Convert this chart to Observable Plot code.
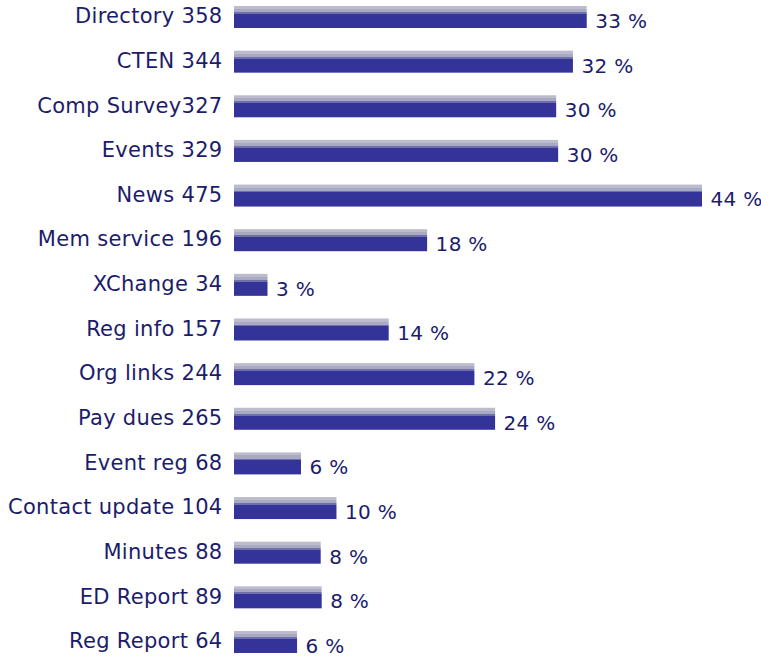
<!DOCTYPE html>
<html>
<head>
<meta charset="utf-8">
<script src="https://cdn.jsdelivr.net/npm/d3@7"></script>
<script src="https://cdn.jsdelivr.net/npm/@observablehq/plot@0.6"></script>
<style>
  html, body { margin: 0; padding: 0; background: #fff; }
  #chart svg { display: block; }
  #chart svg text { letter-spacing: 0.3px; }
</style>
</head>
<body>
<div id="chart"></div>
<script>
const labels = ["Directory 358", "CTEN 344", "Comp Survey327", "Events 329", "News 475", "Mem service 196", "XChange 34", "Reg info 157", "Org links 244", "Pay dues 265", "Event reg 68", "Contact update 104", "Minutes 88", "ED Report 89", "Reg Report 64"];
const counts = [358, 344, 327, 329, 475, 196, 34, 157, 244, 265, 68, 104, 88, 89, 64];
const percents = [33, 32, 30, 30, 44, 18, 3, 14, 22, 24, 6, 10, 8, 8, 6];

const data = labels.map((label, i) => ({label, count: counts[i], pct: percents[i]}));

const textColor = "#1c1c6b";
const font = "DejaVu Sans, Verdana, sans-serif";

const chart = Plot.plot({
  width: 761,
  height: 658,
  marginLeft: 234,
  marginRight: 59,
  marginTop: 0,
  marginBottom: 0,
  style: {fontFamily: font, background: "#fff", overflow: "visible"},
  x: {domain: [0, 475], axis: null},
  y: {type: "band", domain: labels, range: [6, 652.97], paddingInner: 0.507, paddingOuter: 0, round: false, axis: null},
  marks: [
    Plot.barX(data, {x: "count", y: "label", fill: "url(#barGrad)"}),
    Plot.axisY({tickSize: 0, tickPadding: 12, fontSize: 21, color: textColor, label: null, dy: -1}),
    Plot.text(data, {x: "count", y: "label", text: d => `${d.pct} %`, textAnchor: "start", dx: 8, dy: 4, fontSize: 20, fill: textColor})
  ]
});

const defs = d3.select(chart).insert("defs", ":first-child");
const g = defs.append("linearGradient").attr("id", "barGrad").attr("x1", 0).attr("y1", 0).attr("x2", 0).attr("y2", 1);
[
  [0, "#bcbccf"], [0.14, "#bcbccf"], [0.14, "#a9a9c2"], [0.28, "#a9a9c2"],
  [0.28, "#6f6fad"], [0.36, "#6f6fad"], [0.36, "#333399"], [1, "#333399"]
].forEach(([o, c]) => g.append("stop").attr("offset", o).attr("stop-color", c));

document.getElementById("chart").appendChild(chart);
</script>
</body>
</html>
